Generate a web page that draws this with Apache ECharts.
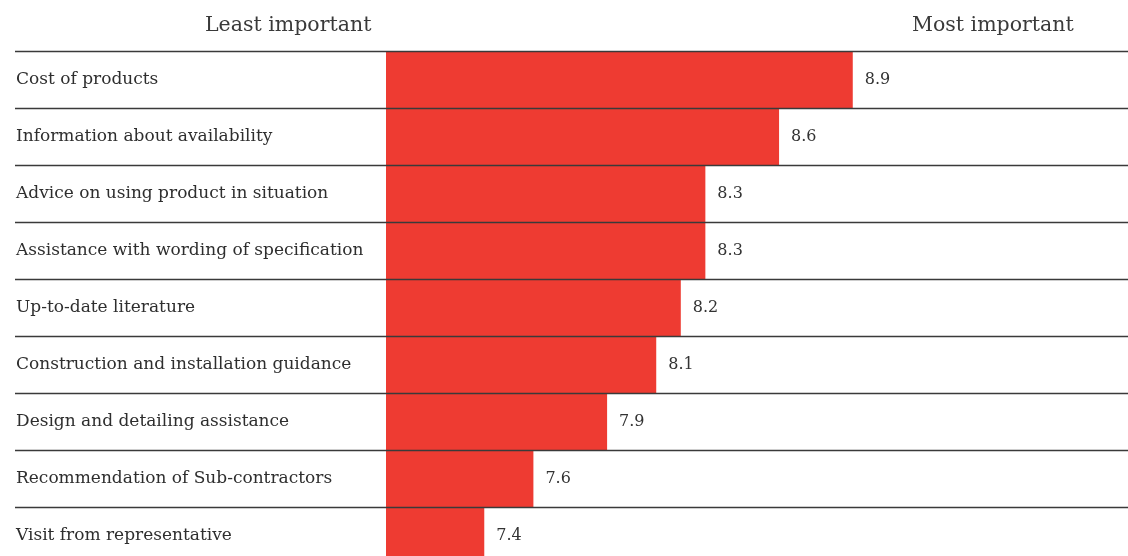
<!DOCTYPE html>
<html>
<head>
<meta charset="utf-8">
<style>
  html, body { margin: 0; padding: 0; background: #fff; overflow: hidden; }
  /* the last row runs past the bottom edge of the page */
  #chart { width: 1128px; height: 564px; }
</style>
<script src="https://cdn.jsdelivr.net/npm/echarts@6/dist/echarts.min.js"></script>
</head>
<body>
<div id="chart"></div>
<script>
// Importance ratings of manufacturer support services
const categories = [
  'Cost of products',
  'Information about availability',
  'Advice on using product in situation',
  'Assistance with wording of specification',
  'Up-to-date literature',
  'Construction and installation guidance',
  'Design and detailing assistance',
  'Recommendation of Sub-contractors',
  'Visit from representative'
];
const scores = [8.9, 8.6, 8.3, 8.3, 8.2, 8.1, 7.9, 7.6, 7.4];
const scaleMin = 7;
const scaleMax = 10;
const leftHeading = 'Least important';
const rightHeading = 'Most important';

const FONT = '"DejaVu Serif", serif';

const chart = echarts.init(document.getElementById('chart'));
chart.setOption({
  animation: false,
  grid: [
    // full-width grid carrying the row rules and row labels
    { left: 15, right: 0, top: 51, bottom: 0, containLabel: false },
    // bar area
    { left: 386, right: 5, top: 51, bottom: 0, containLabel: false }
  ],
  xAxis: [
    { gridIndex: 0, type: 'value', min: 0, max: 1, show: false },
    { gridIndex: 1, type: 'value', min: scaleMin, max: scaleMax, show: false }
  ],
  yAxis: [
    {
      gridIndex: 0, type: 'category', data: categories, inverse: true, z: 5,
      axisLine: { show: false }, axisTick: { show: false },
      splitLine: { show: true, lineStyle: { color: '#3a3a3a', width: 1.3 } },
      axisLabel: {
        inside: true, margin: 1, align: 'left',
        fontFamily: FONT, fontSize: 17, color: '#2e2e2e'
      }
    },
    {
      gridIndex: 1, type: 'category', data: categories, inverse: true, show: false
    }
  ],
  graphic: [
    { type: 'text', left: 205, top: 15, style: { text: leftHeading, font: '300 20.5px ' + FONT, fill: '#3a3a3a' } },
    { type: 'text', left: 912, top: 15, style: { text: rightHeading, font: '300 20.5px ' + FONT, fill: '#3a3a3a' } }
  ],
  series: [{
    type: 'bar',
    xAxisIndex: 1, yAxisIndex: 1,
    data: scores,
    barWidth: '100%',
    barCategoryGap: 0,
    itemStyle: { color: '#ee3b32' },
    label: {
      show: true, position: 'right', distance: 12,
      fontFamily: FONT, fontSize: 16, color: '#333',
      formatter: p => p.value.toFixed(1)
    }
  }]
});
</script>
</body>
</html>
